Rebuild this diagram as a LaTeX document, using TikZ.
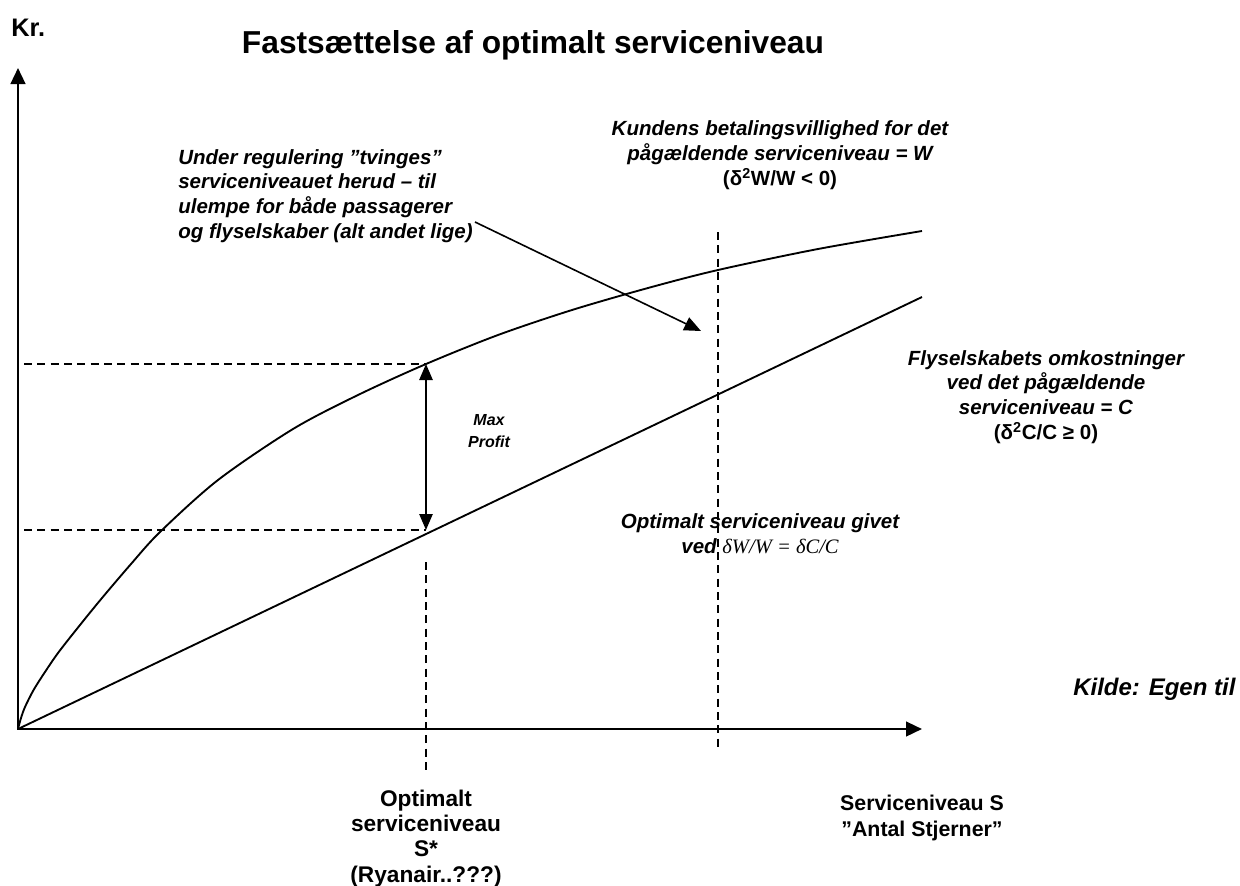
\documentclass[tikz,border=0pt]{standalone}
\usepackage{fontspec}
\setmainfont{Liberation Sans}
\newfontfamily\serifit{Liberation Serif}
\usetikzlibrary{arrows.meta}

\begin{document}
\begin{tikzpicture}[x=0.75pt,y=-0.75pt]
\tikzstyle{every node}+=[inner sep=0pt]
\tikzstyle{axis}=[black, line width=1.8pt, line join=miter, {Triangle[length=12pt,width=11pt]}-{Triangle[length=12pt,width=11pt]}]
\tikzstyle{curve}=[black, line width=1.4pt]
\tikzstyle{guide}=[black, line width=0.9pt, dash pattern=on 6pt off 4pt]
\tikzstyle{pointer}=[black, line width=1.2pt, -{Triangle[length=12.5pt,width=10.5pt]}]
\tikzstyle{span}=[black, line width=1.2pt, {Triangle[length=12pt,width=10pt]}-{Triangle[length=12pt,width=10pt]}]
\tikzstyle{note}=[font=\fontsize{15.4}{18.6}\selectfont\bfseries\itshape, align=center]
\tikzstyle{plain}=[font=\fontsize{17}{19}\selectfont\bfseries, align=center]
\useasboundingbox (0,0) rectangle (1240,886);
% axes
\coordinate (o) at (18,729);
\coordinate (ytip) at (18,68);
\coordinate (xtip) at (922,729);
\draw [axis] (ytip) -- (o) -- (xtip);
% willingness to pay (W) and cost (C)
\coordinate (wopt) at (426,364);
\coordinate (copt) at (426,530);
\coordinate (cend) at (922,297);
\draw [curve] plot [smooth, tension=0.5] coordinates {(18,729) (21,718) (25,707) (33,691) (43,675) (58,653) (80,625) (102,598) (131,564) (160,532) (218,480) (293,429) (358,395) (426,364) (498,335) (572,310) (648,288) (718,270) (818,249) (922,231)};
\draw [curve] (o) -- (cend);
% guides
\coordinate (wlev) at (24,364);
\coordinate (clev) at (24,530);
\coordinate (sstarup) at (426,562);
\coordinate (sstardn) at (426,770);
\coordinate (regup) at (718,232);
\coordinate (regdn) at (718,750);
\draw [guide] (wlev) -- (wopt);
\draw [guide] (clev) -- (copt);
\draw [guide] (sstarup) -- (sstardn);
\draw [guide] (regup) -- (regdn);
\draw [span] (wopt) -- (copt);
% labels
\node (kr) at (11,28) [anchor=west, font=\fontsize{19}{22}\selectfont\bfseries] {Kr.};
\node (title) at (533,45) [font=\fontsize{23.8}{28}\selectfont\bfseries] {Fastsættelse af optimalt serviceniveau};
\node (wlabel) at (780,155) [note] {Kundens betalingsvillighed for det\\pågældende serviceniveau = W\\{\upshape(δ\textsuperscript{2}W/W < 0)}};
\node (under) at (178,196) [note, align=left, anchor=west] {Under regulering ”tvinges”\\serviceniveauet herud – til\\ulempe for både passagerer\\og flyselskaber (alt andet lige)};
\node (profit) at (489,431) [note, font=\fontsize{12}{16.5}\selectfont\bfseries\itshape] {Max\\Profit};
\node (clabel) at (1046,397) [note] {Flyselskabets omkostninger\\ved det pågældende\\serviceniveau = C\\{\upshape(δ\textsuperscript{2}C/C ≥ 0)}};
\node (optlabel) at (760,534) [note] {Optimalt serviceniveau givet\\ved {\serifit\mdseries δW/W = δC/C}};
\node (kilde) at (1073,689) [note, font=\fontsize{18}{20}\selectfont\bfseries\itshape, anchor=west] {Kilde: Egen til};
\node (sstar) at (426,887) [plain, anchor=south] {Optimalt\\serviceniveau\\S*\\(Ryanair..???)};
\node (xlabel) at (922,818) [plain, font=\fontsize{16}{19}\selectfont\bfseries] {Serviceniveau S\\”Antal Stjerner”};
% pointer
\coordinate (pushfrom) at (475,222);
\coordinate (pushto) at (701,331);
\draw [pointer] (pushfrom) -- (pushto);
\end{tikzpicture}
\end{document}
